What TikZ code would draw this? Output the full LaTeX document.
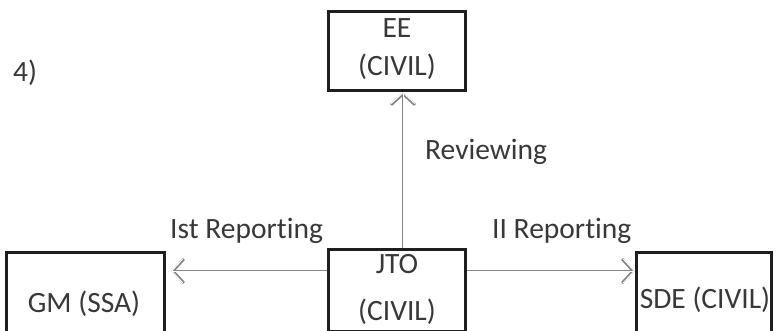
\documentclass[tikz,border=0pt]{standalone}
\usepackage{fontspec}
\setmainfont[Ligatures=NoCommon]{Carlito}
\usetikzlibrary{arrows.meta}
\definecolor{boxc}{HTML}{1E1E1E}
\definecolor{txtc}{HTML}{383838}
\definecolor{arrc}{HTML}{858585}
\begin{document}
\begin{tikzpicture}[x=1pt,y=-1pt,
  box/.style={draw=boxc,line width=3pt,rectangle,inner sep=0pt},
  lbl/.style={text=txtc,inner sep=0pt,font=\fontsize{29.5}{34}\selectfont},
  arr/.style={draw=arrc,line width=2.8pt,
    -{Straight Barb[length=11pt,width=24pt]},
    postaction={draw=white,line width=1pt,-{Straight Barb[length=11pt,width=24pt]}}}]
\useasboundingbox (0,0) rectangle (781,331);
% boxes
\node[box,minimum width=137pt,minimum height=79pt] (ee) at (397,51) {};
\node[box,minimum width=158pt,minimum height=80pt] (gm) at (85.5,292) {};
\node[box,minimum width=137pt,minimum height=82pt] (jto) at (397,290.5) {};
\node[box,minimum width=135pt,minimum height=80pt] (sde) at (704,292) {};
% box texts
\node[lbl,anchor=base] (eet) at (397,38) {EE};
\node[lbl,anchor=base] (eec) at (397,76) {(CIVIL)};
\node[lbl,anchor=base] (jtot) at (397,273) {JTO};
\node[lbl,anchor=base] (jtoc) at (397,320) {(CIVIL)};
\node[lbl,anchor=base] (gmt) at (84,312) {GM (SSA)};
\node[lbl,anchor=base] (sdet) at (705,308) {SDE (CIVIL)};
% labels
\node[lbl,anchor=base west] (num) at (13,82) {4)};
\node[lbl,anchor=base west] (rev) at (425,160) {Reviewing};
\node[lbl,anchor=base west] (ist) at (170,238) {Ist Reporting};
\node[lbl,anchor=base west] (iir) at (492,238) {II Reporting};
% connectors
\draw[arr] ([xshift=6pt]jto.north) -- ([xshift=6pt]ee.south);
\draw[arr,shorten >=5pt] ([yshift=19.5pt]jto.west) -- ([yshift=21pt]gm.east);
\draw[arr] ([yshift=19.5pt]jto.east) -- ([yshift=21pt]sde.west);
\end{tikzpicture}
\end{document}
